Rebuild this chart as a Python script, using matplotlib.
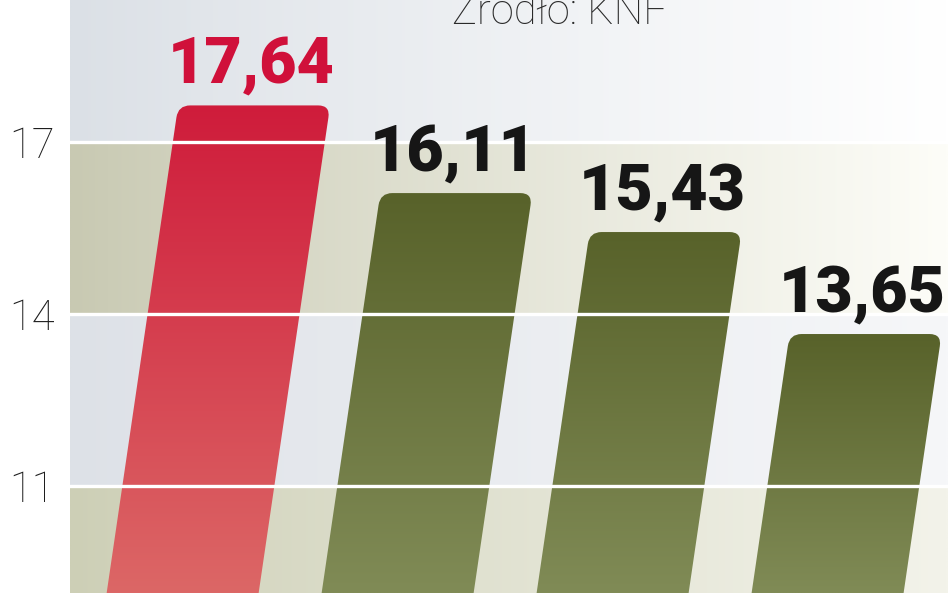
import numpy as np
import matplotlib
matplotlib.use("Agg")
import matplotlib.pyplot as plt
from matplotlib.path import Path
from matplotlib.patches import PathPatch
from matplotlib import font_manager as fm
from matplotlib.colors import to_rgb

# ---- data ----
values = [17.64, 16.11, 15.43, 13.65]
labels = ["17,64", "16,11", "15,43", "13,65"]
highlight = [True, False, False, False]
yticks = [11, 14, 17]
ytick_labels = ["11", "14", "17"]
source = "Źródło: KNF"

# ---- fonts ----
names = {f.name for f in fm.fontManager.ttflist}
label_family = "Roboto" if "Roboto" in names else "DejaVu Sans"
tick_family = "Roboto" if "Roboto" in names else "DejaVu Sans"

W, H = 948, 593
fig = plt.figure(figsize=(W / 100, H / 100), dpi=100)
fig.patch.set_facecolor("white")
ax = fig.add_axes([70 / W, 0, (W - 70) / W, 1])

XL, XR = -0.558, 3.526
YB, YT = 9.13, 19.48

# background bands with horizontal gradient
bands = [
    (YB - 1, 11, "#cdcfb6", "#f3f3ea"),
    (11, 14, "#dde1e7", "#f6f7f9"),
    (14, 17, "#c8c9b2", "#fdfdf8"),
    (17, YT + 1, "#dbe0e6", "#ffffff"),
]
for y0, y1, cl, cr in bands:
    t = np.linspace(0, 1, 256) ** 0.9
    c0, c1 = np.array(to_rgb(cl)), np.array(to_rgb(cr))
    img = (c0[None, :] * (1 - t[:, None]) + c1[None, :] * t[:, None])[None, :, :]
    ax.imshow(img, extent=[XL, XR, y0, y1], aspect="auto", origin="lower",
              zorder=0, interpolation="bilinear")

# bars: slanted with rounded top corners and vertical gradient
slant = 0.0391
bw = 0.707
rx, ry = 12 / 215, 12 / 57.17
ybot = 8.5

red_top, red_bot = "#cf1c3b", "#dc6766"
grn_top, grn_bot = "#58622a", "#808b56"

for i, v in enumerate(values):
    xl = lambda y: i - bw / 2 + slant * (y - 10)
    xr = lambda y: xl(y) + bw
    verts = [
        (xl(ybot), ybot),
        (xl(v - ry), v - ry),
        (xl(v), v), (xl(v) + rx, v),
        (xr(v) - rx, v),
        (xr(v), v), (xr(v - ry), v - ry),
        (xr(ybot), ybot),
        (xl(ybot), ybot),
    ]
    codes = [Path.MOVETO, Path.LINETO, Path.CURVE3, Path.CURVE3, Path.LINETO,
             Path.CURVE3, Path.CURVE3, Path.LINETO, Path.CLOSEPOLY]
    patch = PathPatch(Path(verts, codes), facecolor="none", edgecolor="none", zorder=2)
    ax.add_patch(patch)
    top, bot = (red_top, red_bot) if highlight[i] else (grn_top, grn_bot)
    c0, c1 = np.array(to_rgb(bot)), np.array(to_rgb(top))
    t = np.linspace(0, 1, 256)
    img = (c0[None, :] * (1 - t[:, None]) + c1[None, :] * t[:, None])[:, None, :]
    im = ax.imshow(img, extent=[xl(ybot), xr(v), YB, v], aspect="auto", origin="lower",
                   zorder=2, interpolation="bilinear")
    im.set_clip_path(patch)
    ax.annotate(labels[i], xy=((xl(v) + xr(v)) / 2, v), xytext=(-3, 22),
                textcoords="offset pixels", ha="center", va="baseline",
                fontsize=46.5, fontweight="heavy", family=label_family,
                color="#d0103a" if highlight[i] else "#161616", zorder=6)

# white grid lines over everything
for y in yticks:
    ax.axhline(y, color="white", lw=2.4, zorder=5)

ax.set_xlim(XL, XR)
ax.set_ylim(YB, YT)
ax.set_xticks([])
ax.set_yticks(yticks)
ax.set_yticklabels(ytick_labels, family=tick_family, fontweight="light",
                   fontsize=30, color="#1e1e1e")
ax.tick_params(axis="y", length=0, pad=11)
for s in ax.spines.values():
    s.set_visible(False)

fig.text(452 / W, 1 - 24 / H, source, ha="left", va="baseline", fontsize=30,
         family=tick_family, fontweight="light", color="#2a2a2a")

fig.savefig("out.png", dpi=100)
